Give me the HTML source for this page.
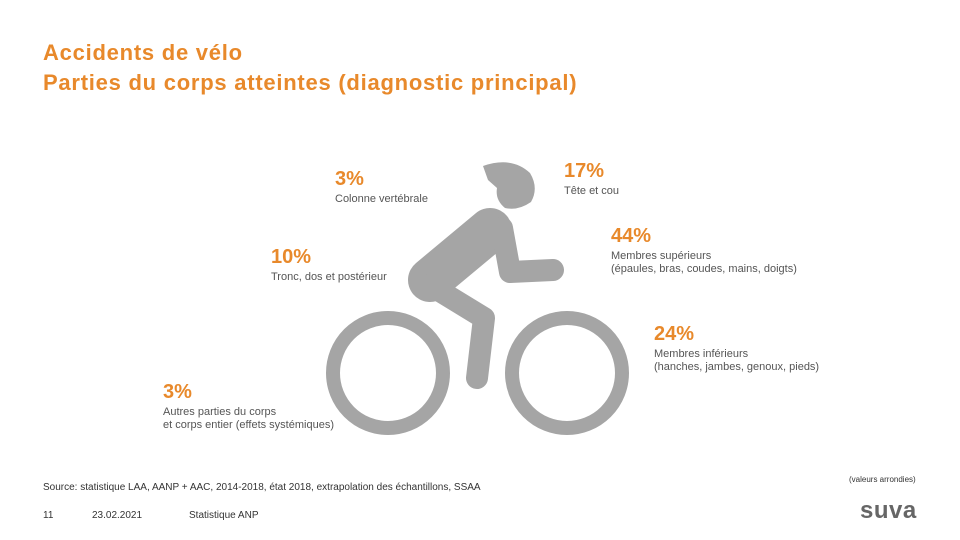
<!DOCTYPE html>
<html><head><meta charset="utf-8"><style>
body{margin:0;width:960px;height:540px;background:#fff;font-family:"Liberation Sans",sans-serif;position:relative;overflow:hidden}
.t{position:absolute;color:#E8892B;font-size:22px;font-weight:bold;letter-spacing:0.75px;line-height:25px;left:43px}
.pct{position:absolute;color:#E8892B;font-size:20px;font-weight:bold}
.lbl{position:absolute;color:#555;font-size:11px;line-height:13px}
.sm{position:absolute;color:#333;font-size:10px}
</style></head><body>
<div class="t" style="top:40px">Accidents de vélo</div>
<div class="t" style="top:70px">Parties du corps atteintes (diagnostic principal)</div>
<svg width="960" height="540" style="position:absolute;left:0;top:0">
<g fill="none" stroke="#A5A5A5" stroke-linecap="round" stroke-linejoin="round">
<circle cx="388" cy="373" r="55" stroke-width="14"/>
<circle cx="567" cy="373" r="55" stroke-width="14"/>
<path d="M490 230 L430 280" stroke-width="44"/>
<path d="M502 228 L510 272 L553 270" stroke-width="22"/>
<path d="M430 285 L484 318 L477 378" stroke-width="22"/>
</g>
<path d="M483 166 Q512 156 530 173 Q539 188 531 202 Q518 211 505 208 Q495 200 497 188 L488 180 Z" fill="#A5A5A5"/>
</svg>
<div id="labels"></div>
<div class="sm" style="left:43px;top:482px">Source: statistique LAA, AANP + AAC, 2014-2018, état 2018, extrapolation des échantillons, SSAA</div>
<div class="sm" style="left:849px;top:475px;font-size:8px">(valeurs arrondies)</div>
<div class="sm" style="left:43px;top:510px">11</div>
<div class="sm" style="left:92px;top:510px">23.02.2021</div>
<div class="sm" style="left:189px;top:510px">Statistique ANP</div>
<div style="position:absolute;left:860px;top:497px;font-size:24px;font-weight:bold;color:#666;letter-spacing:0.5px">suva</div>
<script>
const percents=[3,17,44,10,24,3];
const labels=["Colonne vertébrale","Tête et cou","Membres supérieurs<br>(épaules, bras, coudes, mains, doigts)","Tronc, dos et postérieur","Membres inférieurs<br>(hanches, jambes, genoux, pieds)","Autres parties du corps<br>et corps entier (effets systémiques)"];
const anchorsX=[335,564,611,271,654,163];
const anchorsY=[168,160,225,246,323,381];
const c=document.getElementById('labels');
percents.forEach((p,i)=>{
 const d=document.createElement('div');d.className='pct';
 
 
 d.style.left=anchorsX[i]+'px';d.style.top=anchorsY[i]+'px';d.textContent=p+'%';c.appendChild(d);
 const l=document.createElement('div');l.className='lbl';
 
 
 l.style.left=anchorsX[i]+'px';l.style.top=(anchorsY[i]+25)+'px';l.innerHTML=labels[i];c.appendChild(l);
});
</script>
</body></html>
